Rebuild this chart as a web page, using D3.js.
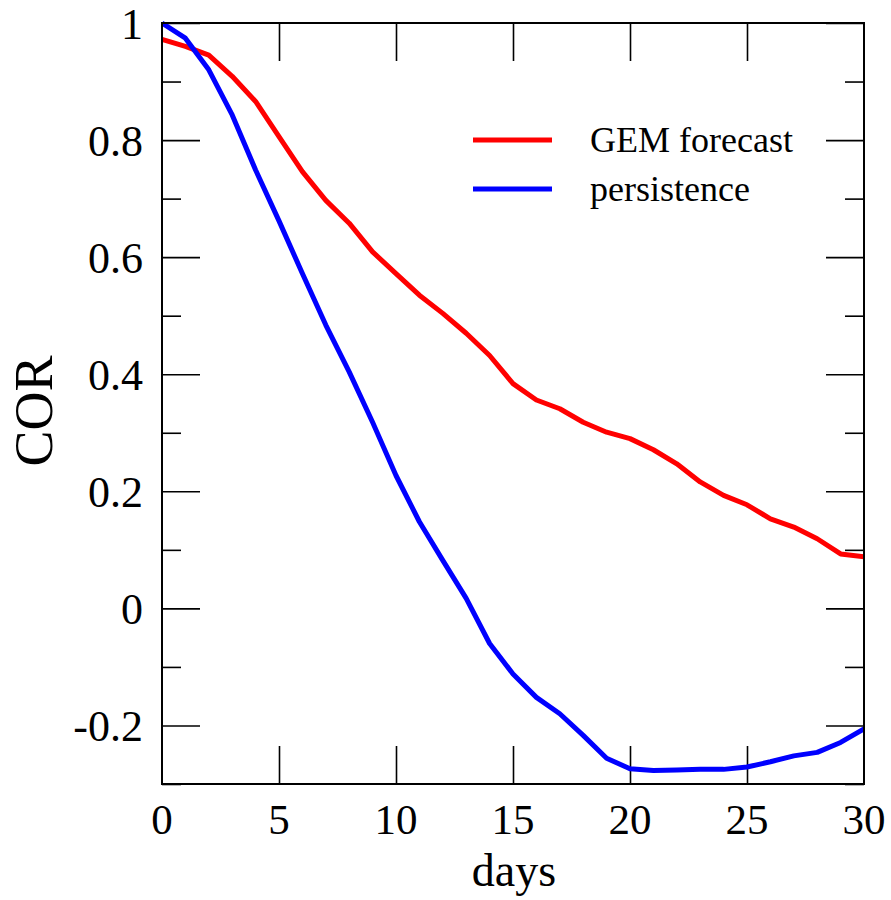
<!DOCTYPE html>
<html>
<head>
<meta charset="utf-8">
<script src="https://cdn.jsdelivr.net/npm/d3@7"></script>
<style>
  html, body { margin: 0; padding: 0; background: #fff; }
  svg { display: block; }
  text { font-family: "Liberation Serif", "Times New Roman", serif; fill: #000; }
</style>
</head>
<body>
<svg id="chart" width="891" height="900"></svg>
<script>
// ---- data ----
const days = d3.range(0, 31);
const gemForecast = [0.972, 0.960, 0.945, 0.909, 0.866, 0.806, 0.746, 0.697, 0.658, 0.609,
  0.572, 0.535, 0.504, 0.470, 0.432, 0.384, 0.356, 0.341, 0.318, 0.301,
  0.290, 0.271, 0.247, 0.216, 0.193, 0.177, 0.153, 0.139, 0.119, 0.093, 0.088];
const persistence = [1.000, 0.974, 0.920, 0.843, 0.749, 0.662, 0.572, 0.484, 0.404, 0.318,
  0.227, 0.148, 0.082, 0.017, -0.060, -0.112, -0.152, -0.180, -0.217, -0.256,
  -0.274, -0.277, -0.276, -0.275, -0.275, -0.271, -0.262, -0.252, -0.246, -0.229, -0.206];
const seriesNames = ["GEM forecast", "persistence"];
const seriesColors = ["#ff0000", "#0000ff"];
const xTicks = [0, 5, 10, 15, 20, 25, 30];
const yTicks = [-0.2, 0, 0.2, 0.4, 0.6, 0.8, 1];
const yTickLabels = ["-0.2", "0", "0.2", "0.4", "0.6", "0.8", "1"];
const yMinorTicks = [-0.3, -0.1, 0.1, 0.3, 0.5, 0.7, 0.9];
const xLabel = "days";
const yLabel = "COR";

// ---- layout ----
const L = 162, R = 864, T = 23, B = 784;
const svg = d3.select("#chart");
const x = d3.scaleLinear().domain([0, 30]).range([L, R]);
const y = d3.scaleLinear().domain([-0.3, 1]).range([B, T]);

const majorLen = 38, minorLen = 19;
function styleAxis(g) {
  g.select(".domain").remove();
  g.selectAll(".tick line").attr("stroke", "#000").attr("stroke-width", 1.6);
  g.selectAll(".tick text").remove();
}
// bottom & top major ticks (inward)
svg.append("g").attr("transform", `translate(0,${B})`)
  .call(d3.axisBottom(x).tickValues(xTicks.slice(1, -1)).tickSize(-majorLen)).call(styleAxis);
svg.append("g").attr("transform", `translate(0,${T})`)
  .call(d3.axisTop(x).tickValues(xTicks.slice(1, -1)).tickSize(-majorLen)).call(styleAxis);
// left & right major + minor
svg.append("g").attr("transform", `translate(${L},0)`)
  .call(d3.axisLeft(y).tickValues(yTicks).tickSize(-majorLen)).call(styleAxis);
svg.append("g").attr("transform", `translate(${L},0)`)
  .call(d3.axisLeft(y).tickValues(yMinorTicks).tickSize(-minorLen)).call(styleAxis);
svg.append("g").attr("transform", `translate(${R},0)`)
  .call(d3.axisRight(y).tickValues(yTicks).tickSize(-majorLen)).call(styleAxis);
svg.append("g").attr("transform", `translate(${R},0)`)
  .call(d3.axisRight(y).tickValues(yMinorTicks).tickSize(-minorLen)).call(styleAxis);

// tick labels
svg.append("g").selectAll("text").data(xTicks).join("text")
  .attr("x", d => x(d)).attr("y", 834)
  .attr("text-anchor", "middle").attr("font-size", 43)
  .text(d => d);
svg.append("g").selectAll("text").data(yTicks).join("text")
  .attr("x", 143).attr("y", d => y(d) + 16)
  .attr("text-anchor", "end").attr("font-size", 44)
  .text((d, i) => yTickLabels[i]);

// axis titles
svg.append("text").attr("x", 514).attr("y", 886)
  .attr("text-anchor", "middle").attr("font-size", 46).text(xLabel);
svg.append("text").attr("transform", "translate(52,411) rotate(-90)")
  .attr("text-anchor", "middle").attr("font-size", 54).text(yLabel);

// lines
svg.append("clipPath").attr("id", "clip")
  .append("rect").attr("x", L).attr("y", T - 3).attr("width", R - L).attr("height", B - T + 3);
const line = d3.line().x((d, i) => x(days[i])).y(d => y(d));
[gemForecast, persistence].forEach((s, k) => {
  svg.append("path").datum(s)
    .attr("d", line)
    .attr("fill", "none")
    .attr("stroke", seriesColors[k])
    .attr("stroke-width", 5)
    .attr("stroke-linejoin", "round")
    .attr("clip-path", "url(#clip)");
});

// frame
svg.append("rect").attr("x", L).attr("y", T).attr("width", R - L).attr("height", B - T)
  .attr("fill", "none").attr("stroke", "#000").attr("stroke-width", 2);

// legend
const leg = svg.append("g");
seriesNames.forEach((name, k) => {
  const ly = 140 + k * 49;
  leg.append("line").attr("x1", 473).attr("x2", 552).attr("y1", ly).attr("y2", ly)
    .attr("stroke", seriesColors[k]).attr("stroke-width", 5);
  leg.append("text").attr("x", 590).attr("y", ly + 12)
    .attr("font-size", 36).text(name);
});
</script>
</body>
</html>
